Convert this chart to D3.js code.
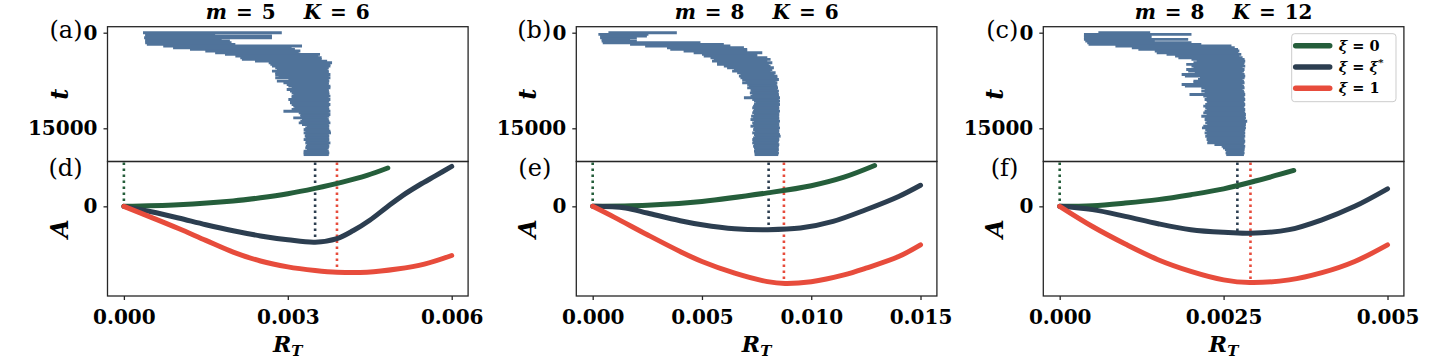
<!DOCTYPE html>
<html>
<head>
<meta charset="utf-8">
<script src="https://cdn.jsdelivr.net/npm/d3@7"></script>
<style>
  body { margin: 0; background: #fff; }
  svg text { font-family: "DejaVu Serif", serif; }
</style>
</head>
<body>
<div class="svg-container"></div>
<script>
// R_T values are kept in units of 1e-3
const titleM = [5, 8, 8];
const titleK = [6, 6, 12];
const topTags = ["(a)", "(b)", "(c)"];
const bottomTags = ["(d)", "(e)", "(f)"];

// time between two sampled rows of the top panels
const rowStep = 262;
const tTicks = [0, 15000];
const tTickLabels = ["0", "15000"];
const aTicks = [0];
const aTickLabels = ["0"];

// (a) spread of R_T at each sampled time
const leftA = [0.35,0.39,0.39,0.37,0.39,0.39,0.39,0.42,0.72,0.90,
  1.21,1.49,1.67,1.85,2.04,2.13,2.16,2.40,2.65,2.68,
  2.71,2.77,2.80,2.71,2.77,2.77,2.83,2.77,3.01,2.80,
  2.92,2.98,3.01,3.07,2.98,3.04,3.07,3.10,3.07,3.07,
  3.01,3.04,3.04,3.07,3.10,3.12,3.07,2.92,3.20,3.23,
  3.23,3.10,3.26,3.23,3.20,3.26,3.35,3.32,3.29,3.32,
  3.29,3.32,3.31,3.33,3.29,3.33,3.32,3.35,3.33,3.32,
  3.35,3.29,3.29,3.29];
const rightA = [2.89,1.67,2.71,2.71,1.79,1.94,1.97,2.04,3.26,3.07,
  3.13,3.23,3.20,3.59,3.56,3.62,3.62,3.72,3.81,3.78,
  3.78,3.75,3.73,3.75,3.75,3.78,3.75,3.78,3.75,3.76,
  3.75,3.75,3.78,3.78,3.75,3.75,3.76,3.76,3.78,3.75,
  3.78,3.76,3.75,3.78,3.76,3.75,3.76,3.78,3.75,3.78,
  3.76,3.73,3.75,3.76,3.78,3.75,3.76,3.75,3.76,3.78,
  3.79,3.75,3.76,3.75,3.76,3.75,3.78,3.75,3.76,3.75,
  3.73,3.75,3.76,3.75];

// (b)
const leftB = [0.72,0.26,0.34,0.34,0.41,0.41,0.46,1.71,2.40,3.40,
  3.55,4.16,4.62,5.00,5.08,5.39,5.54,5.46,5.69,5.69,
  6.00,6.15,6.46,6.38,6.61,6.76,6.69,6.76,6.84,6.99,
  6.84,7.07,7.15,7.07,7.22,7.25,7.19,7.30,7.22,6.92,
  7.30,7.38,7.45,7.38,7.34,7.30,7.38,7.34,7.30,7.38,
  7.25,7.34,7.22,7.38,7.30,7.34,7.22,7.38,7.34,7.41,
  7.30,7.38,7.41,7.34,7.30,7.34,7.30,7.38,7.34,7.38,
  7.41,7.38,7.41,7.41];
const rightB = [3.85,2.55,2.48,2.02,1.71,2.02,4.93,6.00,6.30,6.92,
  7.07,7.07,7.76,7.53,7.53,7.99,8.14,7.99,8.22,8.06,
  8.14,8.29,8.22,8.14,8.37,8.32,8.45,8.45,8.52,8.37,
  8.45,8.42,8.45,8.48,8.45,8.52,8.48,8.52,8.52,8.57,
  8.52,8.57,8.52,8.57,8.52,8.54,8.52,8.57,8.52,8.54,
  8.52,8.54,8.52,8.57,8.52,8.54,8.52,8.57,8.52,8.54,
  8.52,8.57,8.60,8.52,8.54,8.52,8.48,8.54,8.52,8.49,
  8.52,8.48,8.52,8.49];

// (c)
const leftC = [0.59,0.37,0.37,0.37,0.37,0.39,0.42,0.44,0.85,1.10,
  1.20,1.45,1.48,1.63,1.76,1.81,2.01,2.09,2.04,1.93,
  2.01,2.04,1.93,1.96,2.06,1.86,1.91,2.14,2.11,2.04,
  2.04,1.86,1.91,2.16,2.21,2.16,2.21,1.98,2.19,2.24,
  2.21,2.24,2.25,2.22,2.19,2.22,2.24,2.21,2.19,2.24,
  2.16,2.22,2.21,2.24,2.22,2.25,2.19,2.17,2.22,2.24,
  2.21,2.24,2.22,2.25,2.24,2.26,2.25,2.36,2.47,2.49,
  2.52,2.54,2.53,2.54];
const rightC = [1.38,2.01,1.40,1.40,1.96,1.45,2.01,2.16,2.62,2.67,
  2.72,2.74,2.72,2.77,2.74,2.79,2.82,2.83,2.82,2.81,
  2.83,2.79,2.82,2.81,2.79,2.82,2.83,2.82,2.79,2.81,
  2.82,2.79,2.81,2.82,2.79,2.81,2.82,2.83,2.81,2.82,
  2.83,2.81,2.82,2.83,2.82,2.81,2.83,2.82,2.83,2.84,
  2.83,2.84,2.83,2.86,2.84,2.84,2.83,2.84,2.83,2.82,
  2.83,2.82,2.83,2.81,2.82,2.83,2.82,2.81,2.83,2.82,
  2.82,2.81,2.82,2.81];

// (d) action A against R_T for xi = 0, xi = xi*, xi = 1
const dX0 = [0, 1, 2, 2.5, 3, 3.5, 4, 4.45, 4.83];
const dA0 = [0, 0.036, 0.12, 0.19, 0.28, 0.40, 0.54, 0.69, 0.855];
const dXs = [0, 0.5, 1, 1.5, 2, 2.5, 3, 3.5, 3.9, 4.2, 4.5, 4.8, 5.1, 5.4, 5.7, 6];
const dAs = [0, -0.12, -0.26, -0.41, -0.545, -0.66, -0.746, -0.80, -0.72, -0.54, -0.31, -0.03, 0.24, 0.47, 0.68, 0.89];
const dX1 = [0, 0.5, 1, 1.5, 2, 2.5, 3, 3.5, 3.9, 4.45, 5, 5.5, 6];
const dA1 = [0, -0.245, -0.495, -0.76, -1.02, -1.22, -1.35, -1.43, -1.47, -1.47, -1.40, -1.29, -1.097];
const dMarkX = [0, 3.5, 3.9];
const dMarkA = [0, -0.80, -1.47];

// (e)
const eX0 = [0, 2.5, 5, 8, 10, 11.5, 12.9];
const eA0 = [0, 0.022, 0.11, 0.30, 0.46, 0.65, 0.91];
const eXs = [0, 1.5, 2.5, 4, 5, 6.5, 8, 9.5, 11, 12.5, 14, 15];
const eAs = [0, -0.037, -0.15, -0.32, -0.41, -0.50, -0.52, -0.485, -0.336, -0.076, 0.22, 0.47];
const eX1 = [0, 1, 2.5, 4, 5, 6.5, 8, 8.8, 10, 11.5, 12.5, 14, 15];
const eA1 = [0, -0.246, -0.634, -1.007, -1.23, -1.49, -1.68, -1.72, -1.68, -1.53, -1.38, -1.12, -0.86];
const eMarkX = [0, 8.05, 8.75];
const eMarkA = [0, -0.52, -1.72];

// (f)
const fX0 = [0, 0.5, 1, 1.5, 2, 2.5, 3, 3.57];
const fA0 = [0, 0.015, 0.074, 0.15, 0.26, 0.39, 0.57, 0.80];
const fXs = [0, 0.5, 1, 1.5, 2, 2.5, 2.9, 3.5, 4, 4.5, 5];
const fAs = [0, -0.074, -0.223, -0.388, -0.52, -0.58, -0.60, -0.52, -0.30, 0, 0.39];
const fX1 = [0, 0.5, 1, 1.5, 2, 2.5, 2.9, 3.5, 4, 4.5, 5];
const fA1 = [0, -0.45, -0.84, -1.19, -1.45, -1.64, -1.70, -1.64, -1.48, -1.23, -0.86];
const fMarkX = [0, 2.71, 2.91];
const fMarkA = [0, -0.60, -1.70];

const xDomains = [[-0.3, 6.3], [-0.75, 15.75], [-0.25, 5.25]];
const xTicks = [[0, 3, 6], [0, 5, 10, 15], [0, 2.5, 5]];
const xTickLabels = [["0.000", "0.003", "0.006"], ["0.000", "0.005", "0.010", "0.015"], ["0.000", "0.0025", "0.005"]];

const legendLabels = ["0", "*", "1"];
const colors = ["#255e3b", "#2c3e50", "#e74c3c"];
const barColor = "#50739a";

const columns = [
  { left: leftA, right: rightA, curves: [[dX0, dA0], [dXs, dAs], [dX1, dA1]], markX: dMarkX, markA: dMarkA },
  { left: leftB, right: rightB, curves: [[eX0, eA0], [eXs, eAs], [eX1, eA1]], markX: eMarkX, markA: eMarkA },
  { left: leftC, right: rightC, curves: [[fX0, fA0], [fXs, fAs], [fX1, fA1]], markX: fMarkX, markA: fMarkA },
];

// layout
const width = 1440, height = 360;
const panelLefts = [107.5, 576.3, 1043.3];
const panelWidth = 360.6;
const topY = 26.7, midY = 161.5, botY = 296;

const svg = d3.select(".svg-container").append("svg")
  .attr("width", width).attr("height", height);

function styleAxis(g, size) {
  g.select(".domain").remove();
  g.selectAll("line").attr("stroke", "#262626").attr("stroke-width", 1.3);
  g.selectAll("text")
    .attr("font-family", "DejaVu Serif")
    .attr("font-weight", "bold")
    .attr("font-size", size)
    .attr("fill", "#000");
}

columns.forEach((col, c) => {
  const x0 = panelLefts[c];
  const xScale = d3.scaleLinear().domain(xDomains[c]).range([x0, x0 + panelWidth]);

  // t scale: 0 near the top, matplotlib-like margins
  const tScale = d3.scaleLinear().domain([-941, 20210]).range([topY, midY]);
  const aScale = d3.scaleLinear().domain([-2, 1]).range([botY, midY]);

  // title
  const title = svg.append("text")
    .attr("x", x0 + panelWidth / 2)
    .attr("y", 19)
    .attr("text-anchor", "middle")
    .attr("font-size", 20)
    .attr("font-weight", "bold");
  title.append("tspan").attr("font-style", "italic").text("m");
  title.append("tspan").attr("dx", 9).text("=");
  title.append("tspan").attr("dx", 9).text(titleM[c]);
  title.append("tspan").attr("dx", 28).attr("font-style", "italic").text("K");
  title.append("tspan").attr("dx", 9).text("=");
  title.append("tspan").attr("dx", 9).text(titleK[c]);

  // top panel: horizontal spread segments
  const top = svg.append("g");
  top.selectAll("line.row")
    .data(col.left)
    .enter()
    .append("line")
    .attr("class", "row")
    .attr("x1", (d) => xScale(d))
    .attr("x2", (d, i) => xScale(col.right[i]))
    .attr("y1", (d, i) => tScale(i * rowStep))
    .attr("y2", (d, i) => tScale(i * rowStep))
    .attr("stroke", barColor)
    .attr("stroke-width", 2.9);

  top.append("g")
    .attr("transform", `translate(${x0},0)`)
    .call(d3.axisLeft(tScale).tickValues(tTicks).tickFormat((d, i) => tTickLabels[i]).tickSize(4).tickPadding(6))
    .call((g) => styleAxis(g, 20));

  // bottom panel: dotted markers, then curves
  const bot = svg.append("g");
  bot.selectAll("line.mark")
    .data(col.markX)
    .enter()
    .append("line")
    .attr("class", "mark")
    .attr("x1", (d) => xScale(d))
    .attr("x2", (d) => xScale(d))
    .attr("y1", midY + 1)
    .attr("y2", (d, i) => aScale(col.markA[i]))
    .attr("stroke", (d, i) => colors[i])
    .attr("stroke-width", 2.6)
    .attr("stroke-dasharray", "2.6,3.4");

  const line = d3.line()
    .x((d) => xScale(d[0]))
    .y((d) => aScale(d[1]))
    .curve(d3.curveCatmullRom.alpha(0.5));

  col.curves.forEach(([xs, as], k) => {
    bot.append("path")
      .datum(xs.map((v, i) => [v, as[i]]))
      .attr("fill", "none")
      .attr("stroke", colors[k])
      .attr("stroke-width", 5)
      .attr("stroke-linecap", "round")
      .attr("d", line);
  });

  bot.append("g")
    .attr("transform", `translate(${x0},0)`)
    .call(d3.axisLeft(aScale).tickValues(aTicks).tickFormat((d, i) => aTickLabels[i]).tickSize(4).tickPadding(6))
    .call((g) => styleAxis(g, 20));

  bot.append("g")
    .attr("transform", `translate(0,${botY})`)
    .call(d3.axisBottom(xScale).tickValues(xTicks[c]).tickFormat((d, i) => xTickLabels[c][i]).tickSize(4).tickPadding(10))
    .call((g) => styleAxis(g, 20));

  // frames
  [[topY, midY], [midY, botY]].forEach(([a, b]) => {
    svg.append("rect")
      .attr("x", x0).attr("y", a)
      .attr("width", panelWidth).attr("height", b - a)
      .attr("fill", "none")
      .attr("stroke", "#262626")
      .attr("stroke-width", 1.3);
  });

  // panel tags
  svg.append("text").attr("x", x0 - 25).attr("y", 38)
    .attr("text-anchor", "end").attr("font-size", 24).text(topTags[c]);
  svg.append("text").attr("x", x0 - 25).attr("y", 176)
    .attr("text-anchor", "end").attr("font-size", 24).text(bottomTags[c]);

  // axis labels
  svg.append("text")
    .attr("transform", `translate(${x0 - 40},${(topY + midY) / 2}) rotate(-90)`)
    .attr("text-anchor", "middle")
    .attr("font-size", 24).attr("font-weight", "bold").attr("font-style", "italic")
    .text("t");
  svg.append("text")
    .attr("transform", `translate(${x0 - 40},${(midY + botY) / 2}) rotate(-90)`)
    .attr("text-anchor", "middle")
    .attr("font-size", 24).attr("font-weight", "bold").attr("font-style", "italic")
    .text("A");
  const xl = svg.append("text")
    .attr("x", x0 + panelWidth / 2).attr("y", 352)
    .attr("text-anchor", "middle")
    .attr("font-size", 22).attr("font-weight", "bold").attr("font-style", "italic");
  xl.append("tspan").text("R");
  xl.append("tspan").attr("font-size", 15).attr("dy", 4).text("T");
});

// legend in panel (c)
const lg = svg.append("g").attr("transform", "translate(1291.7,33.7)");
lg.append("rect")
  .attr("width", 104.3).attr("height", 68).attr("rx", 3)
  .attr("fill", "#fff").attr("fill-opacity", 0.85)
  .attr("stroke", "#cccccc").attr("stroke-width", 1);
legendLabels.forEach((lab, i) => {
  const yy = 12 + i * 21.3;
  lg.append("line")
    .attr("x1", 4).attr("x2", 38).attr("y1", yy).attr("y2", yy)
    .attr("stroke", colors[i]).attr("stroke-width", 5.5).attr("stroke-linecap", "round");
  const t = lg.append("text").attr("x", 47).attr("y", yy + 5)
    .attr("font-size", 14.5).attr("font-weight", "bold");
  t.append("tspan").attr("font-style", "italic").text("ξ");
  t.append("tspan").text(" = ");
  if (lab === "*") {
    t.append("tspan").attr("font-style", "italic").text("ξ");
    t.append("tspan").attr("font-size", 10).attr("dy", -6).text("*");
  } else {
    t.append("tspan").text(lab);
  }
});
</script>
</body>
</html>
